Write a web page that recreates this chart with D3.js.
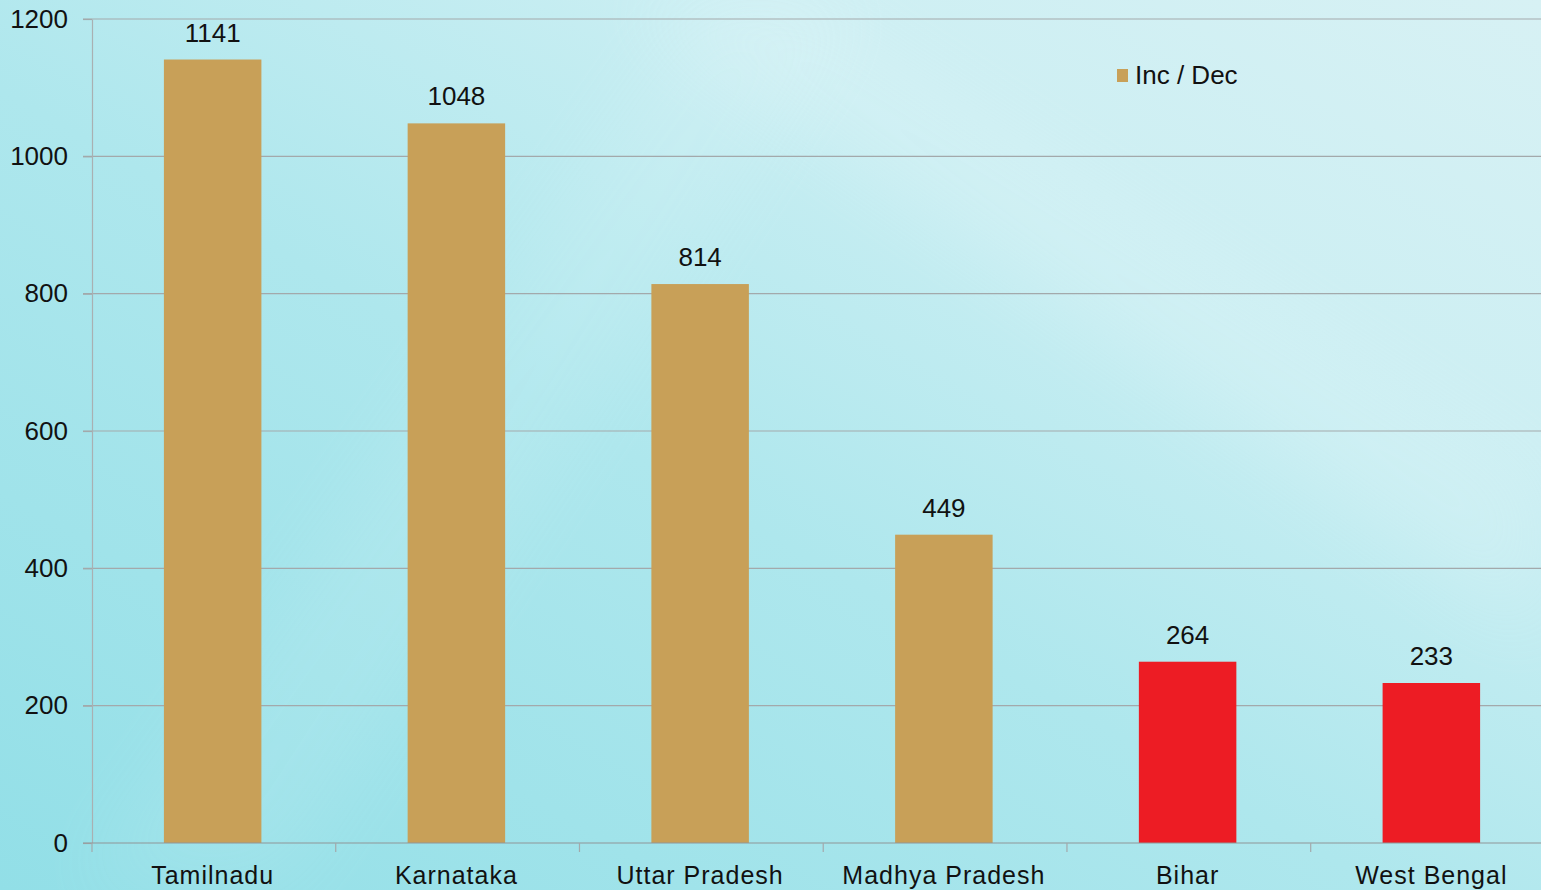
<!DOCTYPE html>
<html>
<head>
<meta charset="utf-8">
<script src="https://cdn.jsdelivr.net/npm/d3@7"></script>
<style>
  body { margin: 0; overflow: hidden; }
  svg { display: block; font-family: "Liberation Sans", Arial, sans-serif; }
</style>
</head>
<body>
<svg width="1541" height="890"></svg>
<script>
// donnees
let etats = ["Tamilnadu", "Karnataka", "Uttar Pradesh", "Madhya Pradesh", "Bihar", "West Bengal"];
let valeurs = [1141, 1048, 814, 449, 264, 233];
let couleurs = ["#c8a058", "#c8a058", "#c8a058", "#c8a058", "#ed1c24", "#ed1c24"];
let graduations = [0, 200, 400, 600, 800, 1000, 1200];
let legende = "Inc / Dec";

let svg = d3.select("svg");
let largeur = 1541, hauteur = 890;

// fond degrade
let defs = svg.append("defs");
let grad = defs.append("linearGradient")
    .attr("id", "fond")
    .attr("x1", "0").attr("y1", "1").attr("x2", "1").attr("y2", "0");
grad.append("stop").attr("offset", "0").attr("stop-color", "#92dfe7");
grad.append("stop").attr("offset", "0.45").attr("stop-color", "#aee7ed");
grad.append("stop").attr("offset", "0.75").attr("stop-color", "#cdeff3");
grad.append("stop").attr("offset", "1").attr("stop-color", "#d7f1f4");
svg.append("rect").attr("width", largeur).attr("height", hauteur).attr("fill", "url(#fond)");

// trainees claires en diagonale (floues)
defs.append("filter").attr("id", "flou")
    .attr("x", "-50%").attr("y", "-50%").attr("width", "200%").attr("height", "200%")
    .append("feGaussianBlur").attr("stdDeviation", 40);
svg.append("path")
    .attr("d", "M620,0 L800,0 L1541,480 L1541,640 Z")
    .attr("fill", "#ffffff")
    .attr("opacity", 0.12)
    .attr("filter", "url(#flou)");
svg.append("path")
    .attr("d", "M80,890 L280,890 L860,0 L700,0 Z")
    .attr("fill", "#ffffff")
    .attr("opacity", 0.08)
    .attr("filter", "url(#flou)");

// echelles
let x = d3.scaleBand()
    .domain(etats)
    .range([92, 1552])
    .paddingInner(0.6)
    .paddingOuter(0.295);

let y = d3.scaleLinear()
    .domain([0, 1200])
    .range([843, 19]);

// grille
svg.append("g")
    .selectAll("line")
    .data(graduations.filter(d => d > 0))
    .enter()
    .append("line")
    .attr("x1", 83).attr("x2", largeur)
    .attr("y1", d => y(d)).attr("y2", d => y(d))
    .attr("stroke", "#a3a9ab")
    .attr("stroke-width", 1.2);

// axe y
let axeY = svg.append("g")
    .attr("transform", "translate(92,0)")
    .call(d3.axisLeft(y).tickValues(graduations).tickFormat(d3.format("d"))
        .tickSize(9).tickPadding(15).tickSizeOuter(0));
axeY.select(".domain").attr("stroke", "#a9b0b2").attr("stroke-width", 1.2);
axeY.selectAll(".tick line").attr("stroke", "#a3a9ab").attr("stroke-width", 1.2);
axeY.selectAll(".tick text")
    .attr("fill", "#111")
    .style("font-size", "26px")
    .style("font-family", "Liberation Sans, Arial, sans-serif");

// barres
svg.append("g")
    .selectAll("rect")
    .data(valeurs)
    .enter()
    .append("rect")
    .attr("x", (d, i) => x(etats[i]))
    .attr("y", d => y(d))
    .attr("width", x.bandwidth())
    .attr("height", d => y(0) - y(d))
    .attr("fill", (d, i) => couleurs[i]);

// etiquettes des valeurs
svg.append("g")
    .selectAll("text")
    .data(valeurs)
    .enter()
    .append("text")
    .attr("x", (d, i) => x(etats[i]) + x.bandwidth() / 2)
    .attr("y", d => y(d) - 18)
    .attr("text-anchor", "middle")
    .attr("fill", "#111")
    .style("font-size", "26px")
    .text(d => d);

// axe x
let xSep = d3.range(etats.length + 1).map(i => 92 + i * x.step());
svg.append("line")
    .attr("x1", 83).attr("x2", largeur)
    .attr("y1", y(0)).attr("y2", y(0))
    .attr("stroke", "#8f9698")
    .attr("stroke-width", 1.2);
svg.append("g")
    .selectAll("line")
    .data(xSep)
    .enter()
    .append("line")
    .attr("x1", d => d).attr("x2", d => d)
    .attr("y1", y(0)).attr("y2", y(0) + 9)
    .attr("stroke", "#a3a9ab")
    .attr("stroke-width", 1.2);

svg.append("g")
    .selectAll("text")
    .data(etats)
    .enter()
    .append("text")
    .attr("x", d => x(d) + x.bandwidth() / 2)
    .attr("y", 884)
    .attr("text-anchor", "middle")
    .attr("fill", "#111")
    .style("font-size", "25px")
    .style("letter-spacing", "1px")
    .text(d => d);

// legende
let leg = svg.append("g").attr("transform", "translate(1117,69)");
leg.append("rect").attr("width", 11).attr("height", 13).attr("fill", "#c8a058");
leg.append("text")
    .attr("x", 18).attr("y", 15)
    .attr("fill", "#111")
    .style("font-size", "26px")
    .text(legende);
</script>
</body>
</html>
